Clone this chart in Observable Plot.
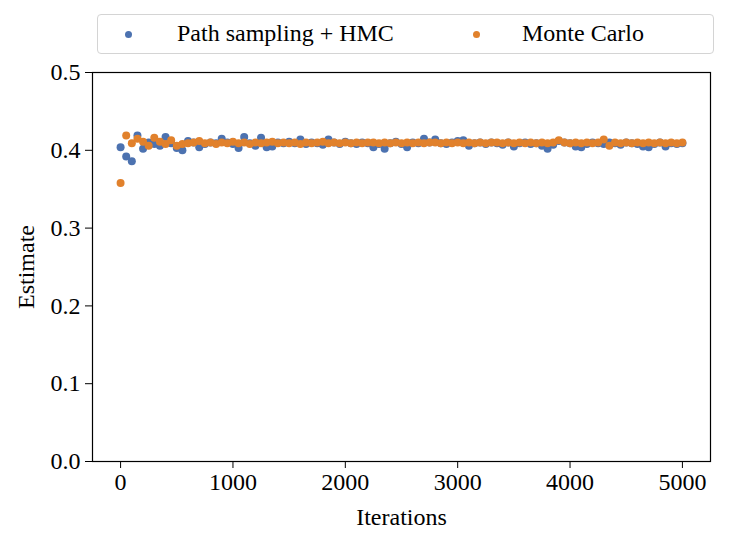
<!DOCTYPE html>
<html><head><meta charset="utf-8">
<script src="https://cdn.jsdelivr.net/npm/d3@7"></script>
<script src="https://cdn.jsdelivr.net/npm/@observablehq/plot@0.6"></script>
<style>
body{margin:0;background:#fff;font-family:"Liberation Serif","Times New Roman",serif;}
#wrap{position:relative;width:729px;height:544px;overflow:hidden;}
#chart{position:absolute;left:0;top:0;}
#legend{position:absolute;left:97px;top:14px;width:615px;height:38px;border:1.5px solid #d4d4d4;border-radius:4px;background:#fff;}
.lg-dot{position:absolute;width:7px;height:7px;border-radius:50%;top:16px;}
.lg-txt{position:absolute;top:5px;font-size:24px;line-height:26px;color:#000;white-space:nowrap;}
</style>
</head><body>
<div id="wrap"><div id="chart"></div><div id="legend"></div></div>
<script>
const seriesNames = ["Path sampling + HMC", "Monte Carlo"];
const seriesColors = ["#4c72b0", "#e1812c"];
const iterations = d3.range(0, 5001, 50);
const hmcValues = [
0.404,0.392,0.386,0.419,0.402,0.410,0.408,0.406,0.417,0.409,
0.403,0.400,0.412,0.410,0.404,0.408,0.410,0.409,0.415,0.410,
0.408,0.403,0.417,0.409,0.406,0.416,0.404,0.405,0.410,0.409,
0.411,0.409,0.414,0.408,0.410,0.409,0.407,0.414,0.410,0.408,
0.411,0.409,0.408,0.410,0.409,0.404,0.408,0.402,0.409,0.411,
0.408,0.404,0.410,0.409,0.415,0.410,0.414,0.409,0.408,0.410,
0.412,0.413,0.406,0.409,0.410,0.408,0.410,0.409,0.407,0.410,
0.405,0.409,0.410,0.408,0.409,0.406,0.402,0.407,0.412,0.410,
0.409,0.405,0.404,0.408,0.410,0.409,0.408,0.410,0.409,0.407,
0.410,0.409,0.408,0.405,0.404,0.408,0.410,0.405,0.409,0.408,
0.409];
const mcValues = [
0.358,0.419,0.409,0.415,0.411,0.406,0.416,0.411,0.408,0.413,
0.406,0.408,0.409,0.410,0.412,0.409,0.410,0.408,0.410,0.409,
0.411,0.409,0.410,0.408,0.410,0.409,0.410,0.411,0.409,0.410,
0.409,0.410,0.408,0.410,0.409,0.410,0.411,0.409,0.410,0.409,
0.410,0.409,0.410,0.409,0.410,0.410,0.409,0.410,0.409,0.410,
0.409,0.410,0.409,0.410,0.409,0.410,0.410,0.409,0.410,0.409,
0.410,0.409,0.410,0.409,0.410,0.409,0.410,0.410,0.409,0.410,
0.409,0.410,0.409,0.410,0.409,0.410,0.409,0.410,0.413,0.410,
0.409,0.410,0.409,0.410,0.409,0.410,0.414,0.406,0.410,0.409,
0.410,0.409,0.410,0.409,0.410,0.409,0.410,0.409,0.410,0.409,
0.410];
const xTicks = [0, 1000, 2000, 3000, 4000, 5000];
const yTicks = [0.0, 0.1, 0.2, 0.3, 0.4, 0.5];

const data = [];
[hmcValues, mcValues].forEach((vals, s) => {
  vals.forEach((v, i) => data.push({iter: iterations[i], value: v, series: seriesNames[s]}));
});

const chart = Plot.plot({
  width: 729, height: 544,
  marginLeft: 92, marginRight: 19, marginTop: 72, marginBottom: 83,
  style: {fontFamily: '"Liberation Serif","Times New Roman",serif', fontSize: "24px", color: "#000", background: "#fff"},
  x: {domain: [-250, 5250]},
  y: {domain: [0, 0.5]},
  color: {domain: seriesNames, range: seriesColors},
  marks: [
    Plot.dot(data, {x: "iter", y: "value", fill: "series", r: 4, stroke: null}),
    Plot.frame({stroke: "#000", strokeWidth: 1.2}),
    Plot.axisX({ticks: xTicks, tickSize: 7, tickPadding: 4, tickFormat: d3.format("d"),
      label: "Iterations", labelAnchor: "center", labelArrow: "none", labelOffset: 63, fontSize: 24}),
    Plot.axisY({ticks: yTicks, tickSize: 7, tickPadding: 5, tickFormat: d3.format(".1f"),
      label: "Estimate", labelAnchor: "center", labelArrow: "none", labelOffset: 76, fontSize: 24})
  ]
});
document.getElementById("chart").appendChild(chart);

const lg = document.getElementById("legend");
const dotX = [30, 378];
const txtX = [79, 424];
seriesNames.forEach((n, i) => {
  const d = document.createElement("div");
  d.className = "lg-dot";
  d.style.left = (dotX[i] - 3.5) + "px";
  d.style.background = seriesColors[i];
  lg.appendChild(d);
  const t = document.createElement("div");
  t.className = "lg-txt";
  t.style.left = txtX[i] + "px";
  t.textContent = n;
  lg.appendChild(t);
});
</script>
</body></html>
